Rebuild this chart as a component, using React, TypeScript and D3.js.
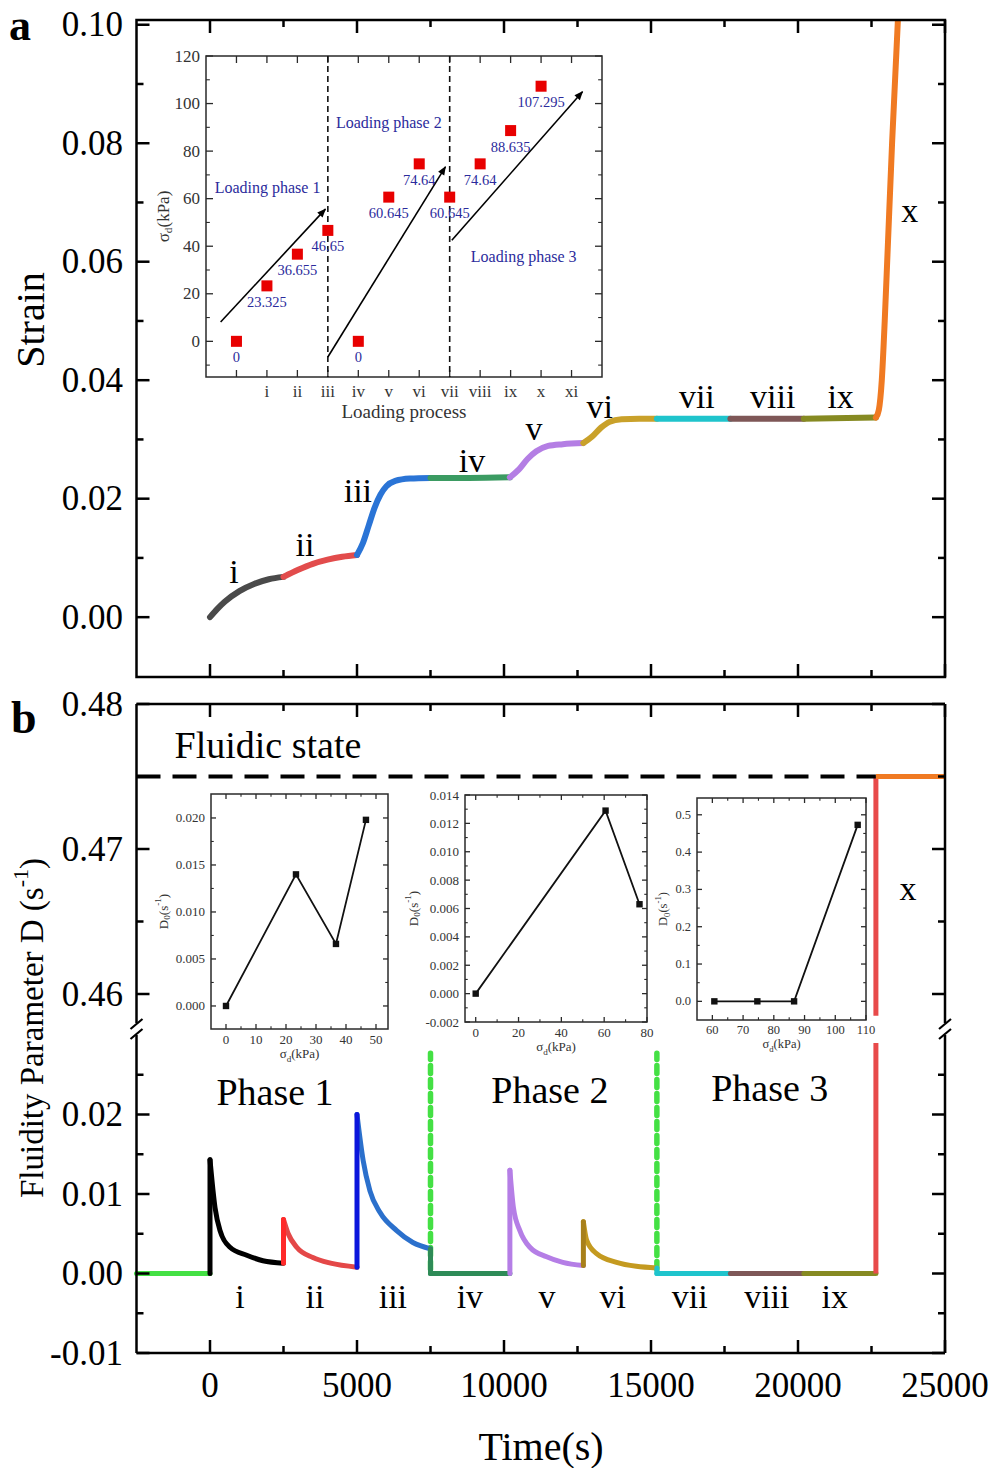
import React from "react";
import * as d3 from "d3";

const SERIF = "'Liberation Serif', 'Times New Roman', Times, serif";

// ---------- shared time axis ----------
const timeMajor = [0, 5000, 10000, 15000, 20000, 25000];
const timeMinor = [2500, 7500, 12500, 17500, 22500];

// ---------- panel a : strain ----------
const strainMajor = [0, 0.02, 0.04, 0.06, 0.08, 0.1];
const strainMinor = [0.01, 0.03, 0.05, 0.07, 0.09];

const steps = ["i", "ii", "iii", "iv", "v", "vi", "vii", "viii", "ix", "x"];

// [time (s), strain]
const strainI = [[0, 0], [250, 0.0014], [500, 0.0026], [1000, 0.0044], [1500, 0.0056], [2000, 0.0064], [2500, 0.0068]];
const strainII = [[2500, 0.0068], [3000, 0.008], [3500, 0.009], [4000, 0.0097], [4500, 0.0102], [5000, 0.0105]];
const strainIII = [[5000, 0.0105], [5200, 0.0125], [5400, 0.0155], [5600, 0.0185], [5800, 0.0207], [6000, 0.0221], [6300, 0.023], [6800, 0.0234], [7500, 0.0235]];
const strainIV = [[7500, 0.0235], [8800, 0.0235], [10200, 0.0236]];
const strainV = [[10200, 0.0236], [10500, 0.0249], [10800, 0.0267], [11100, 0.028], [11500, 0.0289], [12000, 0.0292], [12700, 0.0294]];
const strainVI = [[12700, 0.0294], [13000, 0.0305], [13300, 0.032], [13600, 0.033], [14000, 0.0334], [14600, 0.0335], [15200, 0.0335]];
const strainVII = [[15200, 0.0335], [17700, 0.0335]];
const strainVIII = [[17700, 0.0335], [20200, 0.0335]];
const strainIX = [[20200, 0.0335], [22650, 0.0337]];
const strainX = [[22650, 0.0337], [22750, 0.035], [22850, 0.04], [22950, 0.05], [23050, 0.062], [23200, 0.08], [23400, 0.101]];
const strainSteps = [strainI, strainII, strainIII, strainIV, strainV, strainVI, strainVII, strainVIII, strainIX, strainX];
const strainColors = ["#4a4a4a", "#e24c4c", "#2a74d6", "#3b9b62", "#b47ee4", "#c9a12a", "#1fc4cc", "#7e5757", "#868a22", "#f07a22"];
// label anchor [time, strain]
const strainLabelAt = [[816, 0.0058], [3230, 0.0103], [5030, 0.0195], [8910, 0.0245], [11020, 0.0299], [13260, 0.0336], [16560, 0.0353], [19140, 0.0353], [21450, 0.0353], [23800, 0.0667]];

// ---------- panel b : fluidity parameter ----------
const fluidUpperMajor = [0.46, 0.47, 0.48];
const fluidUpperMinor = [0.465, 0.475];
const fluidLowerMajor = [-0.01, 0, 0.01, 0.02];
const fluidLowerMinor = [-0.005, 0.005, 0.015, 0.025];

const fluidBase = [[-2500, 0], [0, 0]];
const decayI = [[0, 0.0143], [170, 0.0083], [340, 0.0054], [680, 0.0033], [1250, 0.0023], [1800, 0.0016], [2500, 0.0013]];
const decayII = [[2500, 0.0068], [2660, 0.005], [2950, 0.0033], [3500, 0.002], [4100, 0.0013], [5000, 0.0008]];
const decayIII = [[5000, 0.02], [5210, 0.0142], [5440, 0.0104], [5780, 0.0077], [6350, 0.0054], [6900, 0.0039], [7500, 0.0031]];
const flatIV = [[7500, 0], [10200, 0]];
const decayV = [[10200, 0.013], [10320, 0.0083], [10540, 0.0054], [10880, 0.0033], [11450, 0.0021], [12000, 0.0014], [12700, 0.001]];
const decayVI = [[12700, 0.0065], [12810, 0.0042], [13150, 0.0025], [13830, 0.0014], [14500, 0.0009], [15200, 0.0007]];
const flatVII = [[15200, 0], [17700, 0]];
const flatVIII = [[17700, 0], [20200, 0]];
const flatIX = [[20200, 0], [22650, 0]];
const fluidSteps = [decayI, decayII, decayIII, flatIV, decayV, decayVI, flatVII, flatVIII, flatIX];
const fluidColors = ["#000000", "#e44848", "#2b70cc", "#2e8b57", "#b57ee6", "#c49a20", "#1fc4cc", "#7e5757", "#868a22"];
// [time, from, to]
const jumps = [[0, 0, 0.0143], [2500, 0.0013, 0.0068], [5000, 0.0008, 0.02], [7500, 0.0031, 0], [10200, 0, 0.013], [12700, 0.001, 0.0065], [15200, 0.0007, 0]];
const jumpColors = ["#000000", "#ff2a2a", "#0b16dc", "#2e8b57", "#b57ee6", "#a8801a", "#1fc4cc"];
const failureTime = 22650;
const fluidicLevel = 0.475;
const phaseDividers = [7500, 15200];
const dividerTop = 0.0277;
const fluidLabelAt = [[1020, -0.0043], [3570, -0.0043], [6220, -0.0043], [8840, -0.0043], [11460, -0.0043], [13700, -0.0043], [16320, -0.0043], [18940, -0.0043], [21250, -0.0043]];
const phaseNames = ["Phase 1", "Phase 2", "Phase 3"];
const phaseLabelAt = [[2210, 0.0212], [11560, 0.0215], [19040, 0.0217]];

// ---------- inset a : loading process ----------
const loadCats = ["", "i", "ii", "iii", "iv", "v", "vi", "vii", "viii", "ix", "x", "xi"];
const loadStress = [0, 23.325, 36.655, 46.65, 0, 60.645, 74.64, 60.645, 74.64, 88.635, 107.295];
const loadMajor = [0, 20, 40, 60, 80, 100, 120];
const loadMinor = [-10, 10, 30, 50, 70, 90, 110];
const loadDividers = [3, 7];
// [x0, y0, x1, y1] in (category index, kPa)
const loadArrows = [[-0.52, 8.1, 2.92, 55.6], [3.0, -6.6, 6.86, 73.4], [7.07, 42.5, 11.36, 105]];
const loadPhaseText = ["Loading phase 1", "Loading phase 2", "Loading phase 3"];
const loadPhaseAt = [[1.02, 64.9], [5.0, 92.2], [9.43, 35.5]];

// ---------- insets b : D0 vs sigma_d ----------
const p1Sigma = [0, 23.325, 36.655, 46.65];
const p1D0 = [0, 0.014, 0.0066, 0.0198];
const p2Sigma = [0, 60.645, 76.5];
const p2D0 = [0, 0.0129, 0.0063];
const p3Sigma = [60.645, 74.64, 86.6, 107.295];
const p3D0 = [0, 0, 0, 0.473];

type Scale = d3.ScaleLinear<number, number>;

function Inset({
  xs, ys, xMajor, xMinor, yMajor, yMinor, xFmt, yFmt, fs, tickLen, xTitle, yTitle, yTitleX, xTitleY, children,
}: any) {
  const [x0, x1] = xs.range();
  const [y0, y1] = ys.range();
  const c = "#2a2a2a";
  const t = tickLen;
  return (
    <g fontFamily={SERIF}>
      <rect x={x0} y={y1} width={x1 - x0} height={y0 - y1} fill="#fff" stroke={c} strokeWidth={1.5} />
      {xMajor.map((v: number, i: number) => (
        <g key={"xm" + i} stroke={c} strokeWidth={1.3}>
          <line x1={xs(v)} x2={xs(v)} y1={y0} y2={y0 - t} />
          <line x1={xs(v)} x2={xs(v)} y1={y1} y2={y1 + t} />
        </g>
      ))}
      {xMinor.map((v: number, i: number) => (
        <g key={"xn" + i} stroke={c} strokeWidth={1.1}>
          <line x1={xs(v)} x2={xs(v)} y1={y0} y2={y0 - t * 0.55} />
          <line x1={xs(v)} x2={xs(v)} y1={y1} y2={y1 + t * 0.55} />
        </g>
      ))}
      {yMajor.map((v: number, i: number) => (
        <g key={"ym" + i} stroke={c} strokeWidth={1.3}>
          <line x1={x0} x2={x0 + t} y1={ys(v)} y2={ys(v)} />
          <line x1={x1} x2={x1 - t} y1={ys(v)} y2={ys(v)} />
        </g>
      ))}
      {yMinor.map((v: number, i: number) => (
        <g key={"yn" + i} stroke={c} strokeWidth={1.1}>
          <line x1={x0} x2={x0 + t * 0.55} y1={ys(v)} y2={ys(v)} />
          <line x1={x1} x2={x1 - t * 0.55} y1={ys(v)} y2={ys(v)} />
        </g>
      ))}
      {xMajor.map((v: number, i: number) => (
        <text key={"xl" + i} x={xs(v)} y={y0 + fs * 1.15} fontSize={fs} textAnchor="middle" fill="#333">
          {xFmt(v)}
        </text>
      ))}
      {yMajor.map((v: number, i: number) => (
        <text key={"yl" + i} x={x0 - 6} y={ys(v)} fontSize={fs} textAnchor="end" dominantBaseline="central" fill="#333">
          {yFmt(v)}
        </text>
      ))}
      <text x={(x0 + x1) / 2} y={xTitleY} fontSize={fs} textAnchor="middle" fill="#333">
        {xTitle}
      </text>
      <text transform={`translate(${yTitleX},${(y0 + y1) / 2}) rotate(-90)`} fontSize={fs} textAnchor="middle" dominantBaseline="central" fill="#333">
        {yTitle}
      </text>
      {children}
    </g>
  );
}

function sigmaTitle(fs: number) {
  return (
    <>
      σ<tspan dy={fs * 0.3} fontSize={fs * 0.7}>d</tspan>
      <tspan dy={-fs * 0.3}>(kPa)</tspan>
    </>
  );
}

function d0Title(fs: number) {
  return (
    <>
      D<tspan dy={fs * 0.3} fontSize={fs * 0.7}>0</tspan>
      <tspan dy={-fs * 0.3}>(s</tspan>
      <tspan dy={-fs * 0.4} fontSize={fs * 0.7}>-1</tspan>
      <tspan dy={fs * 0.4}>)</tspan>
    </>
  );
}

function PointLine({ xs, ys, sx, sy }: { xs: Scale; ys: Scale; sx: number[]; sy: number[] }) {
  const pts = sx.map((s, i) => [s, sy[i]]);
  const line = d3.line<number[]>().x((d) => xs(d[0])).y((d) => ys(d[1]));
  return (
    <g>
      <path d={line(pts) || ""} fill="none" stroke="#111" strokeWidth={1.8} />
      {pts.map((p, i) => (
        <rect key={i} x={xs(p[0]) - 3.2} y={ys(p[1]) - 3.2} width={6.4} height={6.4} fill="#111" />
      ))}
    </g>
  );
}

export default function App() {
  const x = d3.scaleLinear().domain([-2500, 25000]).range([136.5, 945]);
  const yA = d3.scaleLinear().domain([-0.0101, 0.1008]).range([677, 20]);
  const yBu = d3.scaleLinear().domain([0.458, 0.48]).range([1023, 704]);
  const yBl = d3.scaleLinear().domain([-0.01, 0.03]).range([1353, 1035]);

  const lineA = d3.line<number[]>().x((d) => x(d[0])).y((d) => yA(d[1])).curve(d3.curveMonotoneX);
  const lineB = d3.line<number[]>().x((d) => x(d[0])).y((d) => yBl(d[1])).curve(d3.curveMonotoneX);

  const [L, R] = x.range();
  const aTop = 20, aBot = 677;
  const bTop = 704, bBot = 1353;
  const breakHi = yBu.range()[0];
  const breakLo = yBl.range()[1];
  const MAJ = 13, MIN = 7, SW = 2.5;
  const tickFs = 35;

  // inset scales
  const xa = d3.scaleLinear().domain([-1, 12]).range([206, 602]);
  const ya = d3.scaleLinear().domain([-15, 120]).range([377, 56]);
  const xb1 = d3.scaleLinear().domain([-5, 54]).range([211, 388]);
  const yb1 = d3.scaleLinear().domain([-0.00245, 0.02255]).range([1029, 794]);
  const xb2 = d3.scaleLinear().domain([-5, 80]).range([465, 647]);
  const yb2 = d3.scaleLinear().domain([-0.002, 0.014]).range([1022, 795]);
  const xb3 = d3.scaleLinear().domain([55, 110]).range([697, 866]);
  const yb3 = d3.scaleLinear().domain([-0.05, 0.545]).range([1020, 798]);

  const fmt2 = (v: number) => v.toFixed(2);
  const fmt3 = (v: number) => v.toFixed(3);
  const fmt1 = (v: number) => v.toFixed(1);

  const timeTicks = (yEdge0: number, yEdge1: number) => (
    <g stroke="#000" strokeWidth={SW}>
      {timeMajor.map((t) => (
        <g key={"M" + t}>
          <line x1={x(t)} x2={x(t)} y1={yEdge0} y2={yEdge0 + MAJ} />
          <line x1={x(t)} x2={x(t)} y1={yEdge1} y2={yEdge1 - MAJ} />
        </g>
      ))}
      {timeMinor.map((t) => (
        <g key={"m" + t}>
          <line x1={x(t)} x2={x(t)} y1={yEdge0} y2={yEdge0 + MIN} />
          <line x1={x(t)} x2={x(t)} y1={yEdge1} y2={yEdge1 - MIN} />
        </g>
      ))}
    </g>
  );

  const yTicks = (ys: Scale, major: number[], minor: number[]) => (
    <g stroke="#000" strokeWidth={SW}>
      {major.map((v) => (
        <g key={"M" + v}>
          <line x1={L} x2={L + MAJ} y1={ys(v)} y2={ys(v)} />
          <line x1={R} x2={R - MAJ} y1={ys(v)} y2={ys(v)} />
        </g>
      ))}
      {minor.map((v) => (
        <g key={"m" + v}>
          <line x1={L} x2={L + MIN} y1={ys(v)} y2={ys(v)} />
          <line x1={R} x2={R - MIN} y1={ys(v)} y2={ys(v)} />
        </g>
      ))}
    </g>
  );

  const yLabels = (ys: Scale, major: number[]) =>
    major.map((v) => (
      <text key={"l" + v} x={123} y={ys(v)} fontSize={tickFs} textAnchor="end" dominantBaseline="central">
        {fmt2(v)}
      </text>
    ));

  const breakMark = (bx: number) => (
    <g stroke="#000" strokeWidth={2.2}>
      <line x1={bx - 6} y1={breakHi + 6} x2={bx + 6} y2={breakHi - 4} />
      <line x1={bx - 6} y1={breakLo + 4} x2={bx + 6} y2={breakLo - 6} />
    </g>
  );

  return (
    <svg width={993} height={1468} style={{ position: "absolute", left: 0, top: 0, background: "#fff" }} fontFamily={SERIF}>
      <defs>
        <clipPath id="clipA">
          <rect x={L} y={aTop} width={R - L} height={aBot - aTop} />
        </clipPath>
        <marker id="arrow" viewBox="0 0 10 10" refX={9} refY={5} markerWidth={11} markerHeight={9} markerUnits="userSpaceOnUse" orient="auto">
          <path d="M0,1 L10,5 L0,9 Z" fill="#000" />
        </marker>
      </defs>
      <rect x={0} y={0} width={993} height={1468} fill="#fff" />

      {/* ================= panel a ================= */}
      <g clipPath="url(#clipA)">
        {strainSteps.map((s, i) => (
          <path key={i} d={lineA(s) || ""} fill="none" stroke={strainColors[i]} strokeWidth={6} strokeLinecap="round" />
        ))}
      </g>
      {steps.map((s, i) => (
        <text key={s} x={x(strainLabelAt[i][0])} y={yA(strainLabelAt[i][1])} fontSize={34} textAnchor="middle">
          {s}
        </text>
      ))}
      <rect x={L} y={aTop} width={R - L} height={aBot - aTop} fill="none" stroke="#000" strokeWidth={SW} />
      {timeTicks(aTop, aBot)}
      {yTicks(yA, strainMajor, strainMinor)}
      {yLabels(yA, strainMajor)}
      <text transform={`translate(30,320) rotate(-90)`} fontSize={40} textAnchor="middle" dominantBaseline="central">
        Strain
      </text>
      <text x={9} y={40} fontSize={44} fontWeight="bold">a</text>

      {/* inset a */}
      <Inset
        xs={xa}
        ys={ya}
        xMajor={d3.range(loadCats.length)}
        xMinor={[]}
        yMajor={loadMajor}
        yMinor={loadMinor}
        xFmt={(v: number) => loadCats[v]}
        yFmt={(v: number) => String(v)}
        fs={17}
        tickLen={7}
        xTitle={<tspan fontSize={19}>Loading process</tspan>}
        xTitleY={418}
        yTitle={sigmaTitle(16)}
        yTitleX={163}
      >
        {loadDividers.map((p) => (
          <line key={p} x1={xa(p)} x2={xa(p)} y1={56} y2={377} stroke="#111" strokeWidth={1.6} strokeDasharray="6,4" />
        ))}
        {loadArrows.map((a, i) => (
          <line key={i} x1={xa(a[0])} y1={ya(a[1])} x2={xa(a[2])} y2={ya(a[3])} stroke="#000" strokeWidth={1.6} markerEnd="url(#arrow)" />
        ))}
        {loadStress.map((v, i) => (
          <g key={i}>
            <rect x={xa(i) - 5.5} y={ya(v) - 5.5} width={11} height={11} fill="#e80000" />
            <text x={xa(i)} y={ya(v) + 21} fontSize={14.5} textAnchor="middle" fill="#2b2b9c">
              {String(v)}
            </text>
          </g>
        ))}
        {loadPhaseText.map((s, i) => (
          <text key={s} x={xa(loadPhaseAt[i][0])} y={ya(loadPhaseAt[i][1])} fontSize={16} textAnchor="middle" dominantBaseline="central" fill="#2b2b9c">
            {s}
          </text>
        ))}
      </Inset>

      {/* ================= panel b ================= */}
      {phaseDividers.map((t) => (
        <line key={t} x1={x(t)} x2={x(t)} y1={yBl(0.0005)} y2={yBl(dividerTop)} stroke="#44e044" strokeWidth={5.5} strokeDasharray="8,6" strokeLinecap="round" />
      ))}
      <path d={lineB(fluidBase) || ""} fill="none" stroke="#44e044" strokeWidth={5} strokeLinecap="round" />
      {fluidSteps.map((s, i) => (
        <path key={i} d={lineB(s) || ""} fill="none" stroke={fluidColors[i]} strokeWidth={5} strokeLinecap="round" />
      ))}
      {jumps.map((j, i) => (
        <line key={i} x1={x(j[0])} x2={x(j[0])} y1={yBl(j[1])} y2={yBl(j[2])} stroke={jumpColors[i]} strokeWidth={5} strokeLinecap="round" />
      ))}
      {/* failure at step x */}
      <line x1={x(failureTime)} x2={x(failureTime)} y1={yBl(0)} y2={yBl(0.029)} stroke="#e84a4a" strokeWidth={5} />
      <line x1={x(failureTime)} x2={x(failureTime)} y1={yBu(0.4585)} y2={yBu(fluidicLevel)} stroke="#e84a4a" strokeWidth={5} />
      <line x1={x(-2500)} x2={x(failureTime)} y1={yBu(fluidicLevel)} y2={yBu(fluidicLevel)} stroke="#000" strokeWidth={4} strokeDasharray="24,12" />
      <line x1={x(failureTime)} x2={x(25000)} y1={yBu(fluidicLevel)} y2={yBu(fluidicLevel)} stroke="#f07a22" strokeWidth={5} />

      {steps.slice(0, 9).map((s, i) => (
        <text key={s} x={x(fluidLabelAt[i][0])} y={yBl(fluidLabelAt[i][1])} fontSize={34} textAnchor="middle">
          {s}
        </text>
      ))}
      {phaseNames.map((s, i) => (
        <text key={s} x={x(phaseLabelAt[i][0])} y={yBl(phaseLabelAt[i][1])} fontSize={38} textAnchor="middle">
          {s}
        </text>
      ))}
      <text x={x(1970)} y={yBu(0.4763)} fontSize={38} textAnchor="middle">Fluidic state</text>
      <text x={x(23740)} y={yBu(0.4665)} fontSize={34} textAnchor="middle">x</text>

      {/* frame b with axis break */}
      <g stroke="#000" strokeWidth={SW}>
        <line x1={L} x2={R} y1={bTop} y2={bTop} />
        <line x1={L} x2={R} y1={bBot} y2={bBot} />
        <line x1={L} x2={L} y1={bTop} y2={breakHi} />
        <line x1={L} x2={L} y1={breakLo} y2={bBot} />
        <line x1={R} x2={R} y1={bTop} y2={breakHi} />
        <line x1={R} x2={R} y1={breakLo} y2={bBot} />
      </g>
      {breakMark(L)}
      {breakMark(R)}
      {timeTicks(bTop, bBot)}
      {yTicks(yBu, fluidUpperMajor, fluidUpperMinor)}
      {yTicks(yBl, fluidLowerMajor, fluidLowerMinor)}
      {yLabels(yBu, fluidUpperMajor)}
      {yLabels(yBl, fluidLowerMajor)}
      {timeMajor.map((t) => (
        <text key={t} x={x(t)} y={1397} fontSize={tickFs} textAnchor="middle">
          {String(t)}
        </text>
      ))}
      <text x={541} y={1460} fontSize={40} textAnchor="middle">Time(s)</text>
      <text transform={`translate(32,1028) rotate(-90)`} fontSize={33} textAnchor="middle" dominantBaseline="central">
        Fluidity Parameter D (s<tspan dy={-12} fontSize={22}>-1</tspan>
        <tspan dy={12}>)</tspan>
      </text>
      <text x={11} y={733} fontSize={46} fontWeight="bold">b</text>

      {/* insets b */}
      <Inset
        xs={xb1}
        ys={yb1}
        xMajor={[0, 10, 20, 30, 40, 50]}
        xMinor={[5, 15, 25, 35, 45]}
        yMajor={[0, 0.005, 0.01, 0.015, 0.02]}
        yMinor={[0.0025, 0.0075, 0.0125, 0.0175]}
        xFmt={(v: number) => String(v)}
        yFmt={fmt3}
        fs={13}
        tickLen={5}
        xTitle={sigmaTitle(13)}
        xTitleY={1058}
        yTitle={d0Title(13)}
        yTitleX={163}
      >
        <PointLine xs={xb1} ys={yb1} sx={p1Sigma} sy={p1D0} />
      </Inset>
      <Inset
        xs={xb2}
        ys={yb2}
        xMajor={[0, 20, 40, 60, 80]}
        xMinor={[10, 30, 50, 70]}
        yMajor={[-0.002, 0, 0.002, 0.004, 0.006, 0.008, 0.01, 0.012, 0.014]}
        yMinor={[-0.001, 0.001, 0.003, 0.005, 0.007, 0.009, 0.011, 0.013]}
        xFmt={(v: number) => String(v)}
        yFmt={fmt3}
        fs={13}
        tickLen={5}
        xTitle={sigmaTitle(13)}
        xTitleY={1051}
        yTitle={d0Title(13)}
        yTitleX={413}
      >
        <PointLine xs={xb2} ys={yb2} sx={p2Sigma} sy={p2D0} />
      </Inset>
      <Inset
        xs={xb3}
        ys={yb3}
        xMajor={[60, 70, 80, 90, 100, 110]}
        xMinor={[65, 75, 85, 95, 105]}
        yMajor={[0, 0.1, 0.2, 0.3, 0.4, 0.5]}
        yMinor={[0.05, 0.15, 0.25, 0.35, 0.45]}
        xFmt={(v: number) => String(v)}
        yFmt={fmt1}
        fs={12.5}
        tickLen={5}
        xTitle={sigmaTitle(12.5)}
        xTitleY={1048}
        yTitle={d0Title(12.5)}
        yTitleX={663}
      >
        <PointLine xs={xb3} ys={yb3} sx={p3Sigma} sy={p3D0} />
      </Inset>
    </svg>
  );
}
